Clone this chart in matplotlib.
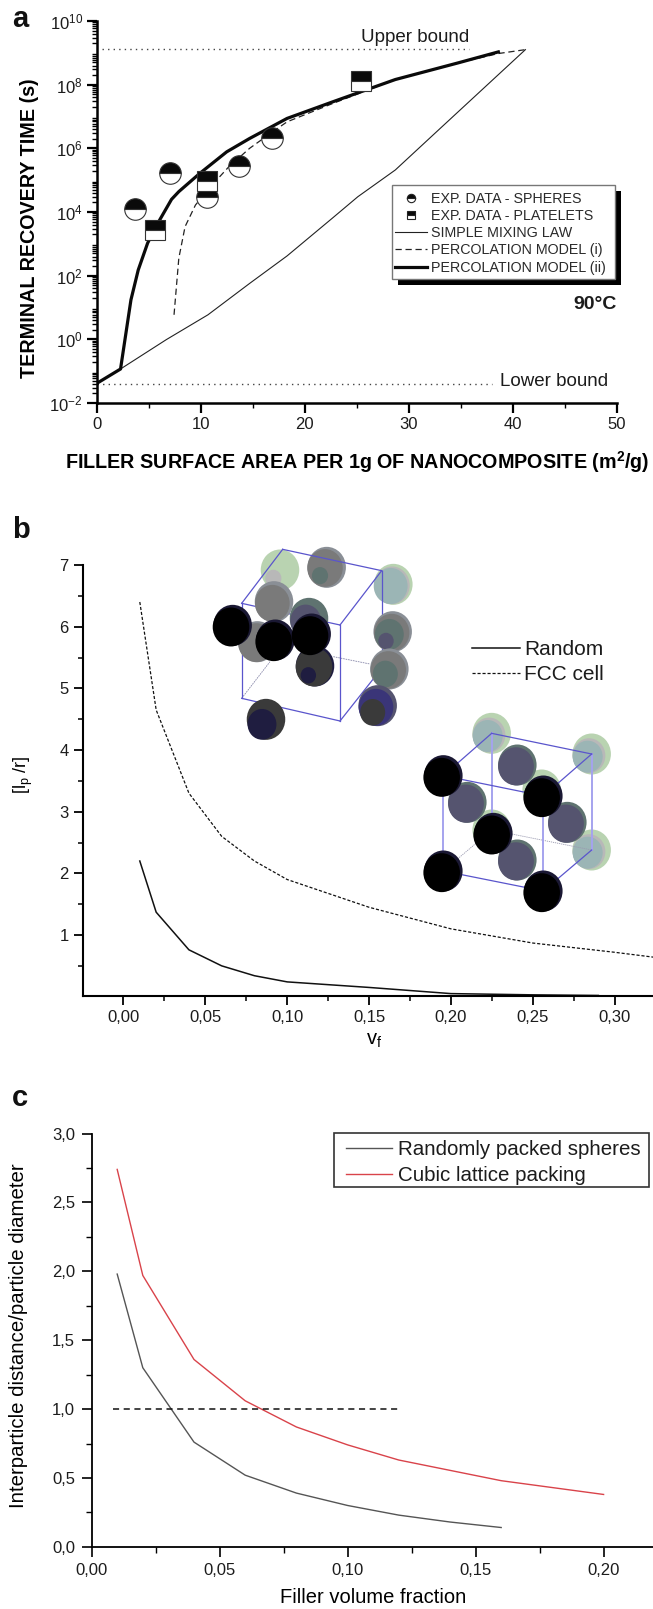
import matplotlib
matplotlib.use("Agg")
import matplotlib.pyplot as plt
from matplotlib.lines import Line2D
from matplotlib.patches import Ellipse, Rectangle
from matplotlib.transforms import Affine2D
from matplotlib.ticker import MultipleLocator, FixedLocator, NullFormatter, FixedFormatter

# ---------- panel a data ----------
mix_x = [0, 2.3, 6.7, 10.7, 14.7, 18.3, 22.7, 25.1, 28.7, 32.7, 36.7, 41.2]
mix_y = [0.041, 0.117, 0.98, 5.9, 57, 417, 6600, 30200, 209000, 3.4e6, 5.5e7, 1.26e9]
perc1_x = [7.44, 7.9, 8.5, 9.5, 11.1, 12.7, 14.7, 16.7, 18.3, 22.7, 28.7, 34.7, 38.6, 41.2]
perc1_y = [5.9, 355, 3470, 16600, 70800, 263000, 1.0e6, 2.95e6, 6.8e6, 2.57e7, 1.45e8, 4.8e8, 9.5e8, 1.26e9]
perc2_x = [0, 2.3, 3.3, 4.0, 4.9, 5.7, 6.5, 7.2, 7.9, 9.9, 12.5, 14.7, 18.3, 22.7, 28.7, 34.7, 38.6]
perc2_y = [0.041, 0.117, 17.4, 151, 1050, 3500, 10000, 25000, 43700, 162000, 776000, 2.04e6, 8.7e6, 2.9e7, 1.45e8, 4.8e8, 1.07e9]
sph_x = [3.72, 7.04, 10.64, 13.64, 16.9]
sph_y = [12000, 162000, 30200, 282000, 2.14e6]
plate_x = [5.64, 10.64, 25.44]
plate_y = [2750, 95500, 1.29e8]
upper_x = [0.5, 35.8]
upper_y = [1.32e9, 1.32e9]
lower_x = [0, 38]
lower_y = [0.039, 0.039]
a_yticks = [1e-2, 1e0, 1e2, 1e4, 1e6, 1e8, 1e10]
a_ylabels = ["10$^{-2}$", "10$^{0}$", "10$^{2}$", "10$^{4}$", "10$^{6}$", "10$^{8}$", "10$^{10}$"]

# ---------- panel b data ----------
b_random_x = [0.01, 0.02, 0.04, 0.06, 0.08, 0.10, 0.15, 0.20, 0.25, 0.29]
b_random_y = [2.2, 1.37, 0.76, 0.5, 0.34, 0.24, 0.15, 0.05, 0.03, 0.02]
b_fcc_x = [0.01, 0.02, 0.04, 0.06, 0.08, 0.10, 0.15, 0.20, 0.25, 0.30, 0.33]
b_fcc_y = [6.4, 4.65, 3.3, 2.6, 2.2, 1.9, 1.45, 1.1, 0.87, 0.72, 0.62]
b_xticklabels = ["0,00", "0,05", "0,10", "0,15", "0,20", "0,25", "0,30"]

# ---------- panel c data ----------
c_random_x = [0.01, 0.02, 0.04, 0.06, 0.08, 0.10, 0.12, 0.14, 0.16]
c_random_y = [1.98, 1.30, 0.76, 0.52, 0.39, 0.30, 0.23, 0.18, 0.14]
c_cubic_x = [0.01, 0.02, 0.04, 0.06, 0.08, 0.10, 0.12, 0.14, 0.16, 0.18, 0.20]
c_cubic_y = [2.74, 1.97, 1.36, 1.06, 0.87, 0.74, 0.63, 0.555, 0.48, 0.43, 0.38]
c_ref_x = [0.0085, 0.12]
c_ref_y = [1.0, 1.0]
c_xticklabels = ["0,00", "0,05", "0,10", "0,15", "0,20"]
c_yticklabels = ["0,0", "0,5", "1,0", "1,5", "2,0", "2,5", "3,0"]

# ---------- illustration (crop coordinates, 3x around an origin) ----------
GREEN, PALE, TEAL = "#b9d3b1", "#b8b8b8", "#9bb5b5"
GREY, SLATE, MIDT = "#8a8f96", "#7a7a7a", "#5f7370"
PURP, NAVY, DARK, BLUE = "#55546f", "#1f1d40", "#3a3a3a", "#3a3578"
FRONT = [("#1a1833", 0, 0, 1), ("#000000", -5, 5, 0.95)]
cube1_origin = (200, 540)
cube1_back = [
    (240, 90, [(GREEN, 0, 0, 1), (PALE, -20, 25, 0.42)]),
    (380, 82, [(GREY, 0, 0, 1), (SLATE, -5, 2, 0.92), (MIDT, -20, 25, 0.42)]),
    (580, 133, [(GREEN, 0, 0, 1), (PALE, -4, 3, 0.92), (TEAL, -8, 5, 0.88)]),
]
cube1_front = [
    (222, 185, [(GREY, 0, 0, 1), (SLATE, -5, 5, 0.9)]),
    (327, 235, [(MIDT, 0, 0, 1), (PURP, -10, 8, 0.8)]),
    (172, 305, [(GREY, 0, 0, 1), (SLATE, -3, 3, 0.95)]),
    (578, 275, [(GREY, 0, 0, 1), (SLATE, -3, 3, 0.92), (MIDT, -10, 8, 0.75), (PURP, -20, 28, 0.4)]),
    (568, 387, [(GREY, 0, 0, 1), (SLATE, -3, 3, 0.92), (MIDT, -12, 15, 0.65)]),
    (198, 538, [(DARK, 0, 0, 1), (NAVY, -12, 15, 0.75)]),
    (533, 497, [(PURP, 0, 0, 1), (BLUE, -5, 5, 0.9), (DARK, -15, 20, 0.65)]),
    (345, 378, [(NAVY, 0, 0, 1), (DARK, -3, 3, 0.95), (NAVY, -20, 28, 0.4)]),
    (98, 256, FRONT), (226, 300, FRONT), (335, 282, FRONT),
]
cube1_edges = [
    ((125, 190), (420, 255)), ((125, 475), (420, 543)), ((125, 190), (125, 475)),
    ((420, 255), (420, 543)), ((125, 190), (248, 28)), ((420, 255), (545, 92)),
    ((420, 543), (545, 385)), ((248, 28), (545, 92)), ((545, 92), (545, 405)),
]
cube1_hidden = [((125, 475), (210, 365)), ((400, 350), (510, 372))]
cube2_origin = (410, 700)
LIGHT = [(GREEN, 0, 0, 1), (PALE, -8, 5, 0.85), (TEAL, -12, 8, 0.78)]
MID = [(MIDT, 0, 0, 1), (PURP, -4, 4, 0.93)]
cube2_back = [(245, 100, LIGHT), (545, 162, LIGHT), (545, 450, LIGHT),
              (245, 390, [(GREEN, 0, 0, 1)]), (395, 270, [(GREEN, 0, 0, 1)])]
cube2_front = [(322, 195, MID), (172, 307, MID), (472, 367, MID), (322, 480, MID),
               (100, 227, FRONT), (400, 288, FRONT), (250, 400, FRONT),
               (100, 513, FRONT), (400, 573, FRONT)]
cube2_edges = [((100, 227), (400, 288)), ((100, 513), (400, 573)), ((245, 100), (545, 162)),
               ((100, 227), (245, 100)), ((400, 288), (545, 162)), ((400, 573), (545, 450))]
cube2_pale = [((100, 227), (100, 513)), ((400, 288), (400, 573)),
              ((245, 100), (245, 390)), ((545, 162), (545, 450))]
cube2_hidden = [((100, 513), (245, 390)), ((245, 390), (545, 450))]

plt.rcParams["font.family"] = ["Liberation Sans", "DejaVu Sans"]
plt.rcParams["mathtext.fontset"] = "custom"
plt.rcParams["mathtext.rm"] = "Liberation Sans"
plt.rcParams["mathtext.bf"] = "Liberation Sans:bold"
plt.rcParams["mathtext.default"] = "regular"
INK = "#1c1c1c"
plt.rcParams["text.color"] = INK

W, H = 653, 1609
fig = plt.figure(figsize=(W / 100, H / 100), dpi=100, facecolor="white")
PX = Affine2D().scale(1 / W, -1 / H).translate(0, 1) + fig.transFigure


def make_axes(left, top, right, bottom):
    ax = fig.add_axes([left / W, 1 - bottom / H, (right - left) / W, (bottom - top) / H])
    ax.patch.set_alpha(0)
    ax.spines["top"].set_visible(False)
    ax.spines["right"].set_visible(False)
    return ax


# ---------- panel a ----------
ax = make_axes(96.6, 21, 617, 403)
ax.set_xlim(0, 50)
ax.set_yscale("log")
ax.set_ylim(1e-2, 1e10)
ax.plot(upper_x, upper_y, ls=(0, (1, 3)), color="#444444", lw=1)
ax.plot(lower_x, lower_y, ls=(0, (1, 3)), color="#444444", lw=1)
ax.plot(mix_x, mix_y, color="#222222", lw=0.8)
ax.plot(perc1_x, perc1_y, color="#222222", lw=0.9, ls=(0, (5, 3)))
ax.plot(perc2_x, perc2_y, color="#0a0a0a", lw=2.3)
mk = dict(ls="none", mfc="#0a0a0a", markerfacecoloralt="white", mec="#333333", mew=0.8, fillstyle="top", zorder=4)
ax.plot(sph_x, sph_y, "o", ms=15.5, **mk)
ax.plot(plate_x, plate_y, "s", ms=14.5, **mk)
for s in ("left", "bottom"):
    ax.spines[s].set_linewidth(1.8)
ax.yaxis.set_major_locator(FixedLocator(a_yticks))
ax.yaxis.set_major_formatter(FixedFormatter(a_ylabels))
ax.yaxis.set_minor_locator(matplotlib.ticker.LogLocator(base=10, subs=range(2, 10), numticks=30))
ax.yaxis.set_minor_formatter(NullFormatter())
ax.xaxis.set_major_locator(MultipleLocator(10))
ax.xaxis.set_minor_locator(MultipleLocator(5))
ax.tick_params(axis="both", which="major", length=7, width=1.6, labelsize=12, pad=3, labelcolor=INK)
ax.tick_params(axis="both", which="minor", length=3.5, width=1.0)
ax.set_xlabel("FILLER SURFACE AREA PER 1g OF NANOCOMPOSITE (m$^{\\mathbf{2}}$/g)", fontsize=14.2, fontweight="bold", va="center")
ax.xaxis.set_label_coords(357, 462, transform=PX)
ax.set_ylabel("TERMINAL RECOVERY TIME (s)", fontsize=14.2, fontweight="bold", va="center")
ax.yaxis.set_label_coords(30, 228, transform=PX)
ax.text(30.6, 3.0e9, "Upper bound", fontsize=13.5, ha="center", va="center")
ax.text(44, 0.047, "Lower bound", fontsize=13.5, ha="center", va="center")
ax.text(50, 12.5, "90°C", fontsize=14, fontweight="bold", ha="right", va="center")
ax.add_patch(Rectangle((398, 191), 223, 94, transform=PX, fc="black", ec="none", zorder=5, clip_on=False))
ax.add_patch(Rectangle((392, 185), 223, 94, transform=PX, fc="white", ec="#777777", lw=1, zorder=6, clip_on=False))
handles = [
    Line2D([], [], marker="o", ms=6, ls="none", mfc="#0a0a0a", markerfacecoloralt="white", mec="#222222", mew=0.8, fillstyle="top"),
    Line2D([], [], marker="s", ms=5.5, ls="none", mfc="#0a0a0a", markerfacecoloralt="white", mec="#222222", mew=0.8, fillstyle="top"),
    Line2D([], [], color="#222222", lw=0.8),
    Line2D([], [], color="#222222", lw=0.9, ls=(0, (5, 3))),
    Line2D([], [], color="#0a0a0a", lw=2.3),
]
labels = ["EXP. DATA - SPHERES", "EXP. DATA - PLATELETS", "SIMPLE MIXING LAW", "PERCOLATION MODEL (i)", "PERCOLATION MODEL (ii)"]
leg = ax.legend(handles, labels, loc="upper left", bbox_to_anchor=(395, 192), bbox_transform=PX, frameon=False,
                fontsize=10.3, handlelength=2.24, handletextpad=0.3, labelspacing=0.22, borderpad=0, borderaxespad=0)
leg.set_zorder(7)
for t in leg.get_texts():
    t.set_color("#2a2a2a")

# ---------- panel b ----------
ax = make_axes(83.3, 565, 653, 995.7)
ax.set_xlim(-0.0245, 0.3234)
ax.set_ylim(0.016, 7)
l1, = ax.plot(b_random_x, b_random_y, color="#111111", lw=1.1, label="Random", clip_on=False)
l2, = ax.plot(b_fcc_x, b_fcc_y, color="#111111", lw=0.9, ls=(0, (2.5, 1.5)), label="FCC cell")
for s in ("left", "bottom"):
    ax.spines[s].set_linewidth(1.5)
ax.xaxis.set_major_locator(FixedLocator([0, 0.05, 0.10, 0.15, 0.20, 0.25, 0.30]))
ax.xaxis.set_major_formatter(FixedFormatter(b_xticklabels))
ax.xaxis.set_minor_locator(MultipleLocator(0.025))
ax.yaxis.set_major_locator(FixedLocator([1, 2, 3, 4, 5, 6, 7]))
ax.yaxis.set_minor_locator(FixedLocator([0.5, 1.5, 2.5, 3.5, 4.5, 5.5, 6.5]))
ax.tick_params(axis="both", which="major", length=6.5, width=1.3, labelsize=12, pad=4, labelcolor=INK)
ax.tick_params(axis="both", which="minor", length=3.5, width=1.1)
ax.set_xlabel("v$_f$", fontsize=14.5, va="center")
ax.xaxis.set_label_coords(374, 1041, transform=PX)
ax.set_ylabel("[l$_p$ /r]", fontsize=13, va="center")
ax.yaxis.set_label_coords(23, 775, transform=PX)
leg = ax.legend(handles=[l1, l2], loc="upper left", bbox_to_anchor=(472, 640), bbox_transform=PX, frameon=False,
                fontsize=15, handlelength=2.3, handletextpad=0.22, labelspacing=0.3, borderpad=0, borderaxespad=0)

# ---------- panel c ----------
ax = make_axes(91.6, 1133.6, 653, 1546.8)
ax.set_xlim(0, 0.2193)
ax.set_ylim(0, 3)
lc1, = ax.plot(c_random_x, c_random_y, color="#555555", lw=1.0, label="Randomly packed spheres")
lc2, = ax.plot(c_cubic_x, c_cubic_y, color="#d9434a", lw=1.0, label="Cubic lattice packing")
ax.plot(c_ref_x, c_ref_y, color="#111111", lw=1.1, ls=(0, (4, 3)))
for s in ("left", "bottom"):
    ax.spines[s].set_linewidth(1.3)
ax.xaxis.set_major_locator(FixedLocator([0, 0.05, 0.10, 0.15, 0.20]))
ax.xaxis.set_major_formatter(FixedFormatter(c_xticklabels))
ax.xaxis.set_minor_locator(MultipleLocator(0.025))
ax.yaxis.set_major_locator(FixedLocator([0, 0.5, 1, 1.5, 2, 2.5, 3]))
ax.yaxis.set_major_formatter(FixedFormatter(c_yticklabels))
ax.yaxis.set_minor_locator(MultipleLocator(0.25))
ax.tick_params(axis="both", which="major", length=7, width=1.2, labelsize=12, pad=5, labelcolor=INK)
ax.tick_params(axis="both", which="minor", length=4, width=1.0)
ax.set_xlabel("Filler volume fraction", fontsize=14.5, va="center")
ax.xaxis.set_label_coords(373, 1598, transform=PX)
ax.set_ylabel("Interparticle distance/particle diameter", fontsize=14.7, va="center")
ax.yaxis.set_label_coords(19, 1335.5, transform=PX)
ax.add_patch(Rectangle((334, 1133), 315, 54, transform=PX, fc="white", ec="#333333", lw=1.2, zorder=6, clip_on=False))
leg = ax.legend(handles=[lc1, lc2], loc="upper left", bbox_to_anchor=(346, 1140), bbox_transform=PX, frameon=False,
                fontsize=14.8, handlelength=2.25, handletextpad=0.3, labelspacing=0.33, borderpad=0, borderaxespad=0)
leg.set_zorder(7)

# ---------- illustration overlay and panel letters ----------
ov = fig.add_axes([0, 0, 1, 1], zorder=3)
ov.set_xlim(0, W)
ov.set_ylim(H, 0)
ov.axis("off")
ov.patch.set_alpha(0)


def conv(origin, p):
    return origin[0] + p[0] / 3, origin[1] + p[1] / 3


def spheres(origin, items, z):
    for cx, cy, layers in items:
        x, y = conv(origin, (cx, cy))
        for c, dx, dy, sc in layers:
            ov.add_patch(Ellipse((x + dx / 3, y + dy / 3), 38.5 * sc, 41 * sc, fc=c, ec="none", zorder=z))
        z += 0.01


def edges(origin, items, z, **kw):
    for a, b in items:
        pa, pb = conv(origin, a), conv(origin, b)
        ov.plot([pa[0], pb[0]], [pa[1], pb[1]], zorder=z, **kw)


spheres(cube1_origin, cube1_back, 1)
edges(cube1_origin, cube1_hidden, 1.5, color="#8888aa", lw=0.6, ls=(0, (2, 1)))
edges(cube1_origin, cube1_edges, 2, color="#5a55cc", lw=0.9)
spheres(cube1_origin, cube1_front, 3)
spheres(cube2_origin, cube2_back, 1)
edges(cube2_origin, cube2_hidden, 1.5, color="#9a9ab0", lw=0.6, ls=(0, (1.5, 1)))
edges(cube2_origin, cube2_pale, 2, color="#a5a3ee", lw=1.4)
edges(cube2_origin, cube2_edges, 2, color="#5a55cc", lw=0.9)
spheres(cube2_origin, cube2_front, 3)

for letter, py in zip(["a", "b", "c"], [27, 538, 1106]):
    ov.text(12, py, letter, fontsize=21, fontweight="bold", color="#111111", ha="left", va="baseline")

fig.savefig("out.png", dpi=100, facecolor="white")
